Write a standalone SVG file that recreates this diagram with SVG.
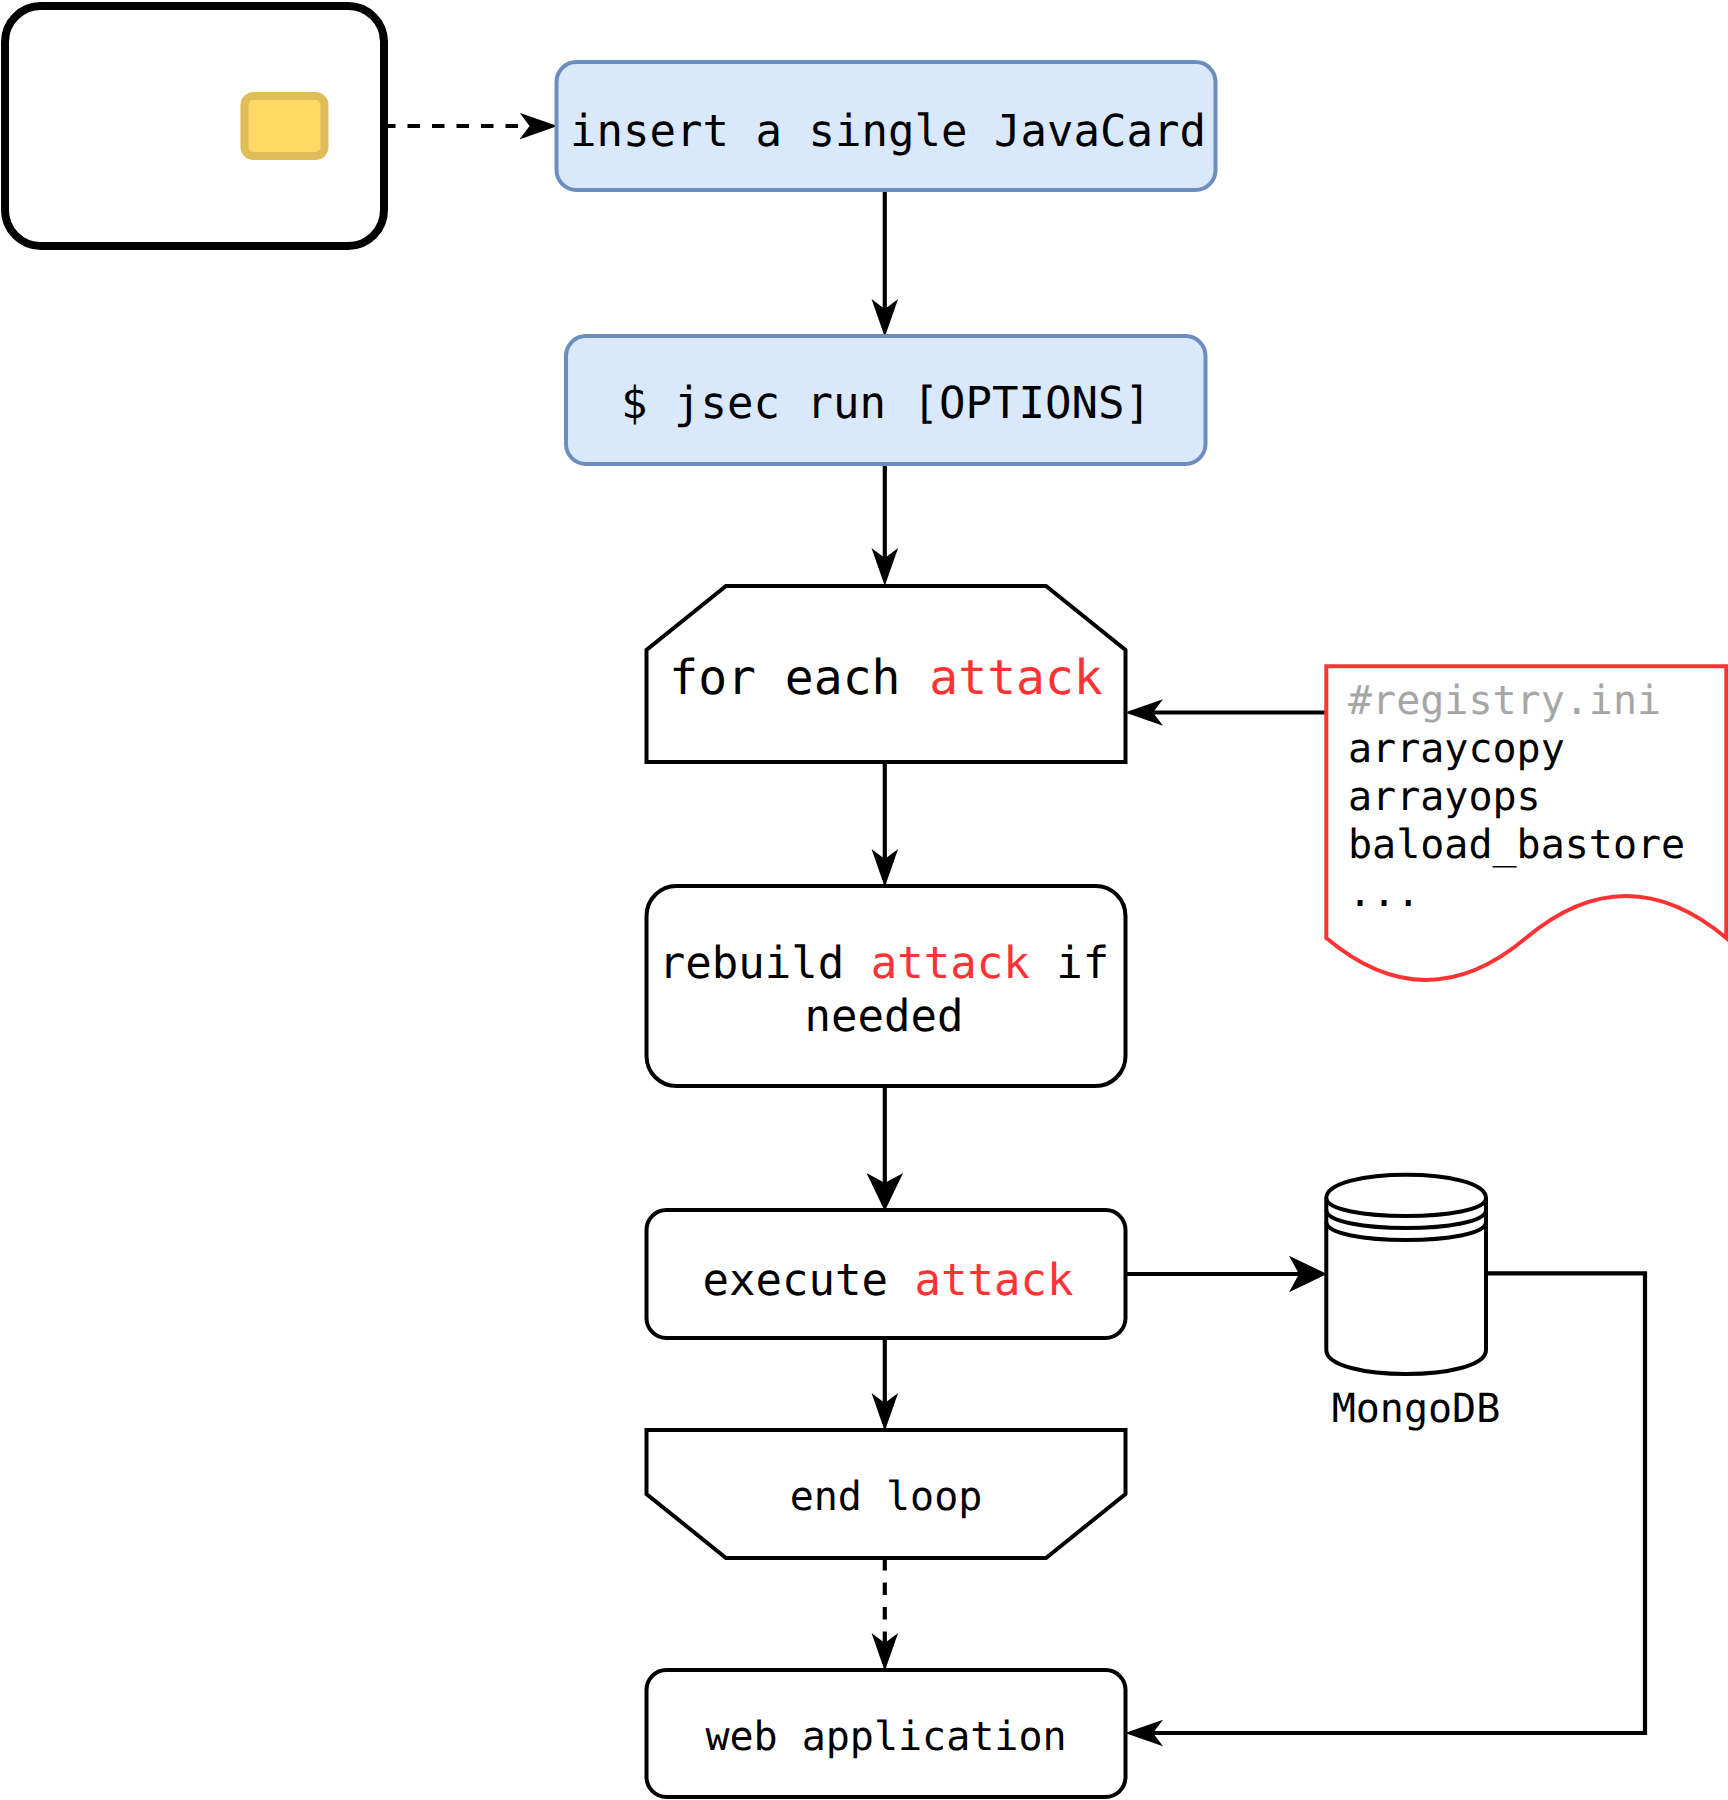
<svg xmlns="http://www.w3.org/2000/svg" width="1728" height="1800" viewBox="0 0 1728 1800">
<style>
.m{font-family:"DejaVu Sans Mono",monospace;fill:#000;text-rendering:geometricPrecision}
.c{text-anchor:middle}
.s44{font-size:44px}.s48{font-size:48px}.s40{font-size:40px}
.r{fill:#ff3333}
.g{fill:#a6a6a6}
.box{fill:#fff;stroke:#000;stroke-width:4}
.blue{fill:#dae8fc;stroke:#6c8ebf;stroke-width:4}
.ln{fill:none;stroke:#000;stroke-width:4.2}
.d{stroke-dasharray:12.500 12}
</style>
<defs>
<marker id="a" markerUnits="userSpaceOnUse" markerWidth="40" markerHeight="30" refX="25" refY="15" orient="auto"><path d="M0,1.700 L38,15 L0,28.300 L10,15 Z" fill="#000"/></marker>
<marker id="b" markerUnits="userSpaceOnUse" markerWidth="40" markerHeight="40" refX="25" refY="20" orient="auto"><path d="M0,1.700 L38,20 L0,38.300 L10,20 Z" fill="#000"/></marker>
</defs>
<g id="connectors">
<line class="ln d" x1="383" y1="126" x2="544.500" y2="126" marker-end="url(#a)"/>
<line class="ln" x1="884.800" y1="190" x2="884.800" y2="324" marker-end="url(#a)"/>
<line class="ln" x1="884.800" y1="464" x2="884.800" y2="573" marker-end="url(#a)"/>
<line class="ln" x1="884.800" y1="762" x2="884.800" y2="874" marker-end="url(#a)"/>
<line class="ln" x1="884.800" y1="1086" x2="884.800" y2="1198" marker-end="url(#b)"/>
<line class="ln" x1="884.800" y1="1338" x2="884.800" y2="1418" marker-end="url(#a)"/>
<line class="ln d" x1="884.800" y1="1558" x2="884.800" y2="1658" marker-end="url(#a)"/>
<line class="ln" x1="1326" y1="712.500" x2="1138" y2="712.500" marker-end="url(#a)"/>
<line class="ln" x1="1126" y1="1274" x2="1314" y2="1274" marker-end="url(#b)"/>
<path class="ln" d="M1486,1273.300 H1645 V1733 H1138" marker-end="url(#a)"/>
</g>
<g id="card">
<rect x="5" y="6" width="379" height="240" rx="36" ry="36" fill="#fff" stroke="#000" stroke-width="8"/>
<rect x="244.500" y="96" width="80" height="60" rx="9" ry="9" fill="#ffd966" stroke="#e0bd58" stroke-width="8"/>
</g>
<g id="insert">
<rect class="blue" x="556.500" y="62" width="659" height="128" rx="20"/>
<text class="m s44 c" x="888" y="146">insert a single JavaCard</text>
</g>
<g id="jsec">
<rect class="blue" x="566" y="336" width="639.500" height="128" rx="20"/>
<text class="m s44 c" x="886" y="418">$ jsec run [OPTIONS]</text>
</g>
<g id="foreach">
<path class="box" d="M646.500,762 V650 L726,586 H1046 L1125.500,650 V762 Z"/>
<text class="m s48 c" x="886" y="694">for each <tspan class="r">attack</tspan></text>
</g>
<g id="rebuild">
<rect class="box" x="646.500" y="886" width="479" height="200" rx="30"/>
<text class="m s44 c" x="884" y="978">rebuild <tspan class="r">attack</tspan> if</text>
<text class="m s44 c" x="884" y="1031">needed</text>
</g>
<g id="execute">
<rect class="box" x="646.500" y="1210" width="479" height="128" rx="20"/>
<text class="m s44 c" x="888" y="1295">execute <tspan class="r">attack</tspan></text>
</g>
<g id="endloop">
<path class="box" d="M646.500,1430 H1125.500 V1494 L1046,1558 H726 L646.500,1494 Z"/>
<text class="m s40 c" x="886" y="1510">end loop</text>
</g>
<g id="webapp">
<rect class="box" x="646.500" y="1670" width="479" height="127" rx="20"/>
<text class="m s40 c" x="886" y="1750">web application</text>
</g>
<g id="registry">
<path d="M1326.300,938 V666.300 H1726.300 V938 Q1626,854 1526,938 Q1426,1022 1326.300,938 Z" fill="#fff" stroke="#ff3333" stroke-width="4"/>
<text class="m s40 g" x="1348" y="714">#registry.ini</text>
<text class="m s40" x="1348" y="762">arraycopy</text>
<text class="m s40" x="1348" y="810">arrayops</text>
<text class="m s40" x="1348" y="858">baload_bastore</text>
<text class="m s40" x="1348" y="906">...</text>
</g>
<g id="mongodb">
<path class="box" d="M1326.300,1198 C1326.300,1167 1486,1167 1486,1198 V1350 C1486,1382 1326.300,1382 1326.300,1350 Z"/>
<path class="ln" style="stroke-width:4" d="M1326.300,1198 C1326.300,1222 1486,1222 1486,1198 M1326.300,1210 C1326.300,1234 1486,1234 1486,1210 M1326.300,1222 C1326.300,1246 1486,1246 1486,1222"/>
<text class="m s40 c" x="1416" y="1422">MongoDB</text>
</g>
</svg>
